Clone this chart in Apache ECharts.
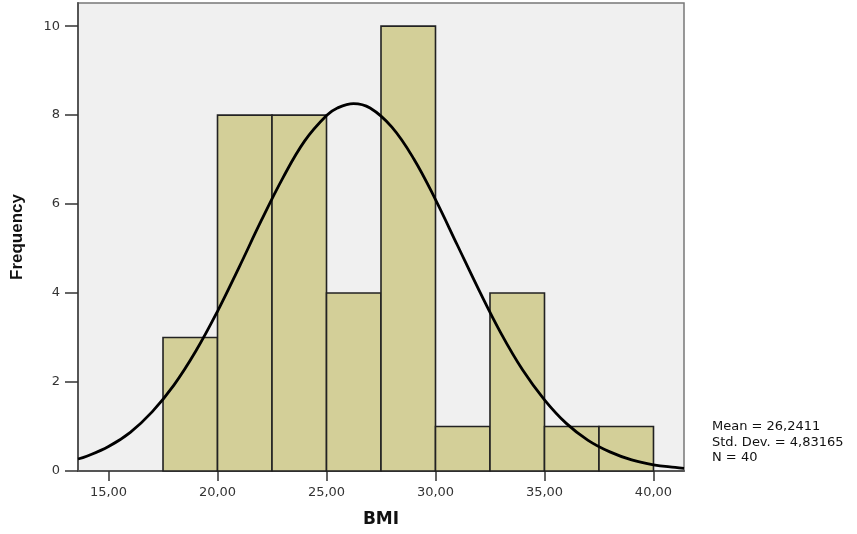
<!DOCTYPE html>
<html>
<head>
<meta charset="utf-8">
<script src="https://cdn.jsdelivr.net/npm/echarts@6/dist/echarts.min.js"></script>
<style>
html,body{margin:0;padding:0;background:#fff;}
#chart{width:857px;height:534px;}
</style>
</head>
<body>
<div id="chart"></div>
<script>
// Histogram bins (BMI) and frequencies
var binStart = [17.5, 20.0, 22.5, 25.0, 27.5, 30.0, 32.5, 35.0, 37.5];
var binEnd   = [20.0, 22.5, 25.0, 27.5, 30.0, 32.5, 35.0, 37.5, 40.0];
var counts   = [3, 8, 8, 4, 10, 1, 4, 1, 1];

// Normal curve points
var curveX = [13.6, 14, 15, 16, 17, 18, 19, 20, 21, 22, 23, 24, 25, 25.5, 26.24, 27, 28, 29, 30, 31, 32, 33, 34, 35, 36, 37, 38, 39, 40, 41, 41.4];
var curveY = [0.27, 0.33, 0.55, 0.87, 1.33, 1.93, 2.69, 3.59, 4.59, 5.62, 6.59, 7.42, 7.99, 8.16, 8.26, 8.16, 7.73, 7.02, 6.10, 5.08, 4.06, 3.10, 2.27, 1.60, 1.07, 0.69, 0.43, 0.25, 0.14, 0.08, 0.06];

// Tick labels
var xTicks = [15, 20, 25, 30, 35, 40];
var xTickLabels = ['15,00', '20,00', '25,00', '30,00', '35,00', '40,00'];
var yTicks = [0, 2, 4, 6, 8, 10];

var statsLines = ['Mean = 26,2411', 'Std. Dev. = 4,83165', 'N = 40'];

var barData = binStart.map(function (s, i) { return [s, binEnd[i], counts[i]]; });
var lineData = curveX.map(function (x, i) { return [x, curveY[i]]; });

var chart = echarts.init(document.getElementById('chart'), null, {renderer: 'canvas'});
chart.setOption({
  animation: false,
  backgroundColor: '#ffffff',
  grid: {
    left: 78, top: 3, right: 173, bottom: 63,
    show: true, backgroundColor: '#f0f0f0', borderColor: '#777777', borderWidth: 1.5
  },
  xAxis: {
    type: 'value', min: 13.6, max: 41.4,
    name: 'BMI', nameLocation: 'middle', nameGap: 40,
    nameTextStyle: {fontFamily: 'DejaVu Sans', fontWeight: 'bold', fontSize: 17, color: '#111'},
    axisLine: {show: true, onZero: false, lineStyle: {color: '#555', width: 2}},
    axisTick: {show: true, customValues: xTicks, length: 10, lineStyle: {color: '#333', width: 1.5}},
    axisLabel: {
      customValues: xTicks, margin: 15,
      fontFamily: 'DejaVu Sans', fontSize: 13, color: '#333',
      formatter: function (v) { var i = xTicks.indexOf(v); return i >= 0 ? xTickLabels[i] : ''; }
    },
    splitLine: {show: false}
  },
  yAxis: {
    type: 'value', min: 0, max: 10.52,
    name: 'Frequency', nameLocation: 'middle', nameGap: 52, nameRotate: 90,
    nameTextStyle: {fontFamily: 'Liberation Sans', fontWeight: 'bold', fontSize: 17, color: '#111'},
    axisLine: {show: true, lineStyle: {color: '#555', width: 2}},
    axisTick: {show: true, customValues: yTicks, length: 13, lineStyle: {color: '#333', width: 1.5}},
    axisLabel: {customValues: yTicks, margin: 18, fontFamily: 'DejaVu Sans', fontSize: 13, color: '#333'},
    splitLine: {show: false}
  },
  series: [
    {
      type: 'custom',
      data: barData,
      encode: {x: [0, 1], y: 2},
      renderItem: function (params, api) {
        var p0 = api.coord([api.value(0), api.value(2)]);
        var p1 = api.coord([api.value(1), 0]);
        return {
          type: 'rect',
          shape: {x: p0[0], y: p0[1], width: p1[0] - p0[0], height: p1[1] - p0[1]},
          style: {fill: '#d3cf98', stroke: '#222222', lineWidth: 1.6}
        };
      },
      z: 2
    },
    {
      type: 'line',
      data: lineData,
      smooth: 0.4,
      showSymbol: false,
      lineStyle: {color: '#000', width: 2.8},
      z: 5,
      clip: true
    }
  ],
  graphic: [
    {
      type: 'text', left: 712, top: 419,
      style: {
        text: statsLines.join('\n'),
        font: '13px "DejaVu Sans"', fill: '#111', lineHeight: 15.5
      }
    }
  ]
});
</script>
</body>
</html>
